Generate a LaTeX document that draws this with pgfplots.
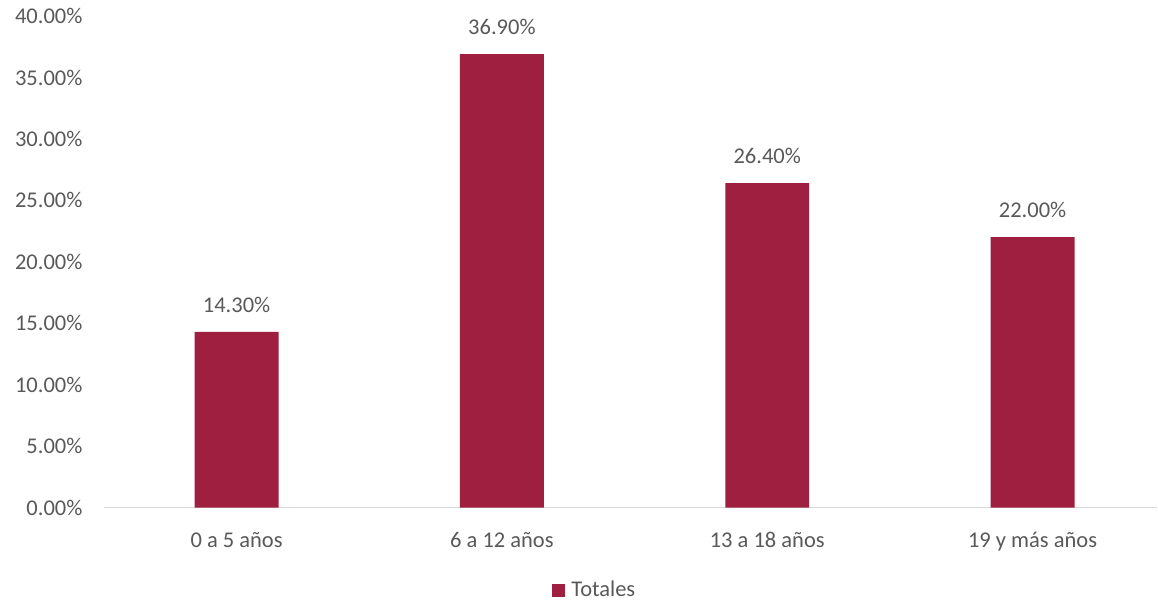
\documentclass[border=0pt]{standalone}
\usepackage{pgfplots}
\pgfplotsset{compat=1.18}
\usepackage{fontspec}
\setmainfont{Carlito}
\definecolor{barc}{HTML}{9E1F3F}
\definecolor{txt}{HTML}{595959}
\definecolor{axl}{HTML}{D9D9D9}
\begin{document}
\begin{tikzpicture}[x=1pt,y=1pt]
\begin{axis}[
  scale only axis,
  width=1054pt, height=492pt,
  xmin=-0.5, xmax=3.47,
  ymin=0, ymax=40,
  axis x line*=bottom,
  axis y line*=left,
  x axis line style={draw=axl, line width=1.5pt, -},
  y axis line style={draw=none},
  xtick={0,1,2,3},
  xticklabels={0 a 5 años, 6 a 12 años, 13 a 18 años, 19 y más años},
  xtick style={draw=none},
  ytick={0,5,...,40},
  ytick style={draw=none},
  yticklabel={\pgfmathprintnumber[fixed,fixed zerofill,precision=2]{\tick}\%},
  /pgf/number format/assume math mode=true,
  tick label style={font=\fontsize{22.5}{26}\selectfont, text=txt},
  yticklabel style={anchor=east, xshift=-18pt},
  xticklabel style={yshift=-17pt},
  ybar,
  bar width=84pt,
  nodes near coords={\pgfmathprintnumber[fixed,fixed zerofill,precision=2]{\pgfplotspointmeta}\%},
  nodes near coords style={font=\fontsize{22.5}{26}\selectfont, text=txt, yshift=16pt},
  legend style={at={(0.466,-0.167)}, anchor=center, draw=none, font=\fontsize{22.5}{26}\selectfont, text=txt, legend columns=-1},
  legend image code/.code={\fill[barc] (-4pt,-7pt) rectangle (9pt,6pt);},
  clip=false,
]
\addplot[fill=barc, draw=none] coordinates {(0,14.3) (1,36.9) (2,26.4) (3,22.0)};
\addlegendentry{\hspace{4pt}Totales}
\end{axis}
\path[use as bounding box] (-104,-95) rectangle (1054,508);
\end{tikzpicture}
\end{document}
